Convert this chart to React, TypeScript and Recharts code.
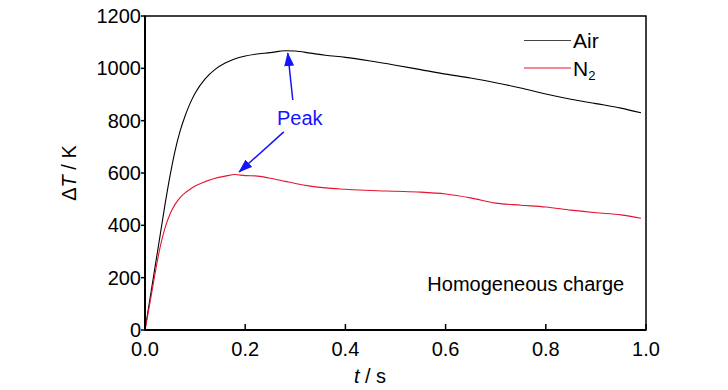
import React from 'react';
import { LineChart, Line, XAxis, YAxis, ReferenceArea, ReferenceLine, ReferenceDot } from 'recharts';

const FONT = "'Liberation Sans', Arial, Helvetica, sans-serif";
const RED = '#e5132f';
const BLUE = '#1414ff';

// time in s
const time = [
    0, 0.01, 0.02, 0.03, 0.04, 0.05, 0.06, 0.07, 0.08, 0.09, 0.1, 0.12, 0.14, 0.16, 0.18,
    0.2, 0.22, 0.25, 0.28, 0.3, 0.33, 0.36, 0.4, 0.45, 0.5, 0.55, 0.6, 0.65, 0.7, 0.75,
    0.8, 0.85, 0.9, 0.95, 0.99,
];
// delta T in K
const airDeltaT = [
    0, 120, 240, 360, 480, 590, 685, 760, 818, 866, 905, 960, 996, 1020, 1037,
    1047, 1054, 1060, 1067, 1066, 1058, 1050, 1042, 1028, 1012, 995, 978, 963, 945, 925,
    902, 882, 865, 848, 830,
];
const n2DeltaT = [
    0, 105, 215, 315, 390, 443, 480, 506, 524, 538, 550, 567, 580, 588, 594,
    590, 589, 580, 568, 560, 550, 543, 538, 533, 530, 527, 520, 505, 485, 477,
    470, 458, 448, 440, 427,
];

const xTicks = [0, 0.2, 0.4, 0.6, 0.8, 1.0];
const yTicks = [0, 200, 400, 600, 800, 1000, 1200];

// annotation anchors, in data units
const peakText = { t: 0.309, v: 783 };
const peakArrowAir = [{ x: 0.295, y: 879 }, { x: 0.285, y: 1058 }];
const peakArrowN2 = [{ x: 0.277, y: 757 }, { x: 0.188, y: 604 }];
const noteText = { t: 0.76, v: 149 };

const data = time.map((t, i) => ({ t, air: airDeltaT[i], n2: n2DeltaT[i] }));

const YLabel = ({ viewBox }: any) => {
    const x = viewBox.x + 69;
    const y = viewBox.y + viewBox.height / 2;
    return (
        <text x={x} y={y} transform={`rotate(-90, ${x}, ${y})`} textAnchor="middle"
            dominantBaseline="central" fontFamily={FONT} fontSize={20} fill="#000">
            Δ<tspan fontStyle="italic">T</tspan> / K
        </text>
    );
};

const XLabel = ({ viewBox }: any) => (
    <text x={viewBox.x + 225} y={viewBox.y + 53} textAnchor="middle" fontFamily={FONT} fontSize={20} fill="#000">
        <tspan fontStyle="italic">t</tspan> / s
    </text>
);

const TextAt = (value: string, color: string) => ({ viewBox }: any) => (
    <text x={viewBox.x} y={viewBox.y} textAnchor="middle" fontFamily={FONT} fontSize={20} fill={color}>
        {value}
    </text>
);

// legend drawn beside the chart, over its top right corner
const LegendBox = () => (
    <svg width={90} height={60} style={{ position: 'absolute', left: 520, top: 25 }}>
        <line x1={4} y1={15.5} x2={51} y2={15.5} stroke="#444" strokeWidth={1} />
        <text x={53} y={23} fontFamily={FONT} fontSize={21} fill="#000">Air</text>
        <line x1={4} y1={43} x2={51} y2={43} stroke={RED} strokeWidth={1} />
        <text x={53} y={51} fontFamily={FONT} fontSize={21} fill="#000">
            N<tspan fontSize={13} dy={4}>2</tspan>
        </text>
    </svg>
);

export default function App() {
    return (
        <div style={{ position: 'absolute', left: 0, top: 0, width: 728, height: 390, background: '#fff' }}>
            <LineChart width={728} height={390} data={data} margin={{ top: 16, right: 82, bottom: 0, left: 0 }}>
                <defs>
                    <marker id="arrowHead" markerUnits="userSpaceOnUse" markerWidth={14} markerHeight={10}
                        refX={13} refY={5} orient="auto">
                        <path d="M0,0 L14,5 L0,10 z" fill={BLUE} />
                    </marker>
                </defs>
                <XAxis
                    dataKey="t"
                    type="number"
                    domain={[0, 1]}
                    ticks={xTicks}
                    interval={0}
                    tickFormatter={(v: number) => v.toFixed(1)}
                    tickSize={-6}
                    tickMargin={18}
                    height={60}
                    axisLine={{ stroke: '#000', strokeWidth: 2 }}
                    tickLine={{ stroke: '#000', strokeWidth: 1.5 }}
                    tick={{ fill: '#000', fontSize: 20, fontFamily: FONT }}
                    label={{ content: XLabel }}
                />
                <YAxis
                    type="number"
                    domain={[0, 1200]}
                    ticks={yTicks}
                    interval={0}
                    width={145}
                    tickSize={4}
                    tickMargin={0}
                    axisLine={{ stroke: '#000', strokeWidth: 2 }}
                    tickLine={{ stroke: '#000', strokeWidth: 1.5 }}
                    tick={{ fill: '#000', fontSize: 20, fontFamily: FONT }}
                    label={{ content: YLabel }}
                />
                <ReferenceArea x1={0} x2={1} y1={0} y2={1200} fill="none" stroke="#000" strokeWidth={1.5} />
                <Line type="monotone" dataKey="air" stroke="#000" strokeWidth={1.1} dot={false} isAnimationActive={false} />
                <Line type="monotone" dataKey="n2" stroke={RED} strokeWidth={1.1} dot={false} isAnimationActive={false} />
                <ReferenceLine segment={peakArrowAir} stroke={BLUE} strokeWidth={1.5} markerEnd="url(#arrowHead)" />
                <ReferenceLine segment={peakArrowN2} stroke={BLUE} strokeWidth={1.5} markerEnd="url(#arrowHead)" />
                <ReferenceDot x={peakText.t} y={peakText.v} r={0} stroke="none" fill="none" label={{ content: TextAt('Peak', BLUE) }} />
                <ReferenceDot x={noteText.t} y={noteText.v} r={0} stroke="none" fill="none" label={{ content: TextAt('Homogeneous charge', '#000') }} />
            </LineChart>
            <LegendBox />
        </div>
    );
}
